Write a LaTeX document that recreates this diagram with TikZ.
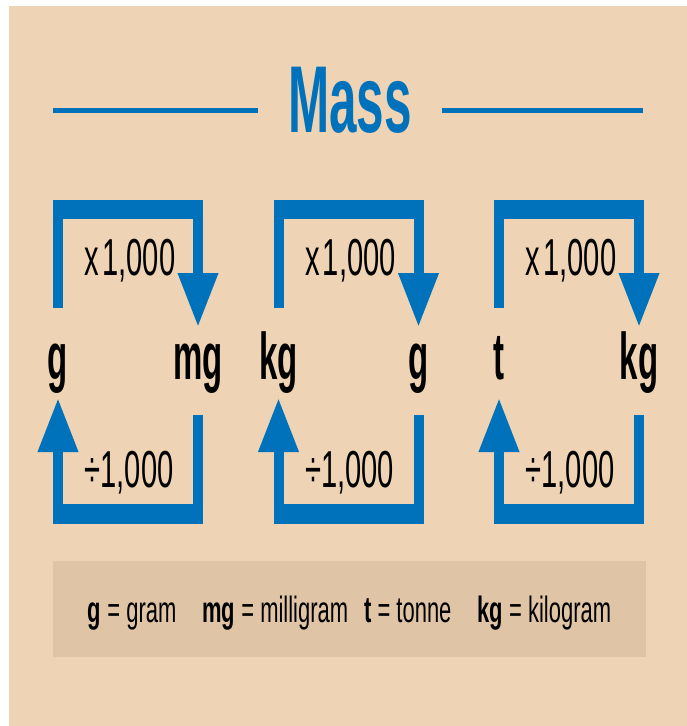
\documentclass[tikz,border=0pt]{standalone}
\usepackage{fontspec}
\usepackage{tikz}
\usetikzlibrary{arrows.meta,calc}
\newfontfamily\titlefont{Liberation Sans}[FakeStretch=0.52]
\newfontfamily\unitfont{Liberation Sans}[FakeStretch=0.5]
\newfontfamily\opfont{Liberation Sans}[FakeStretch=0.56]
\newfontfamily\keyfont{Liberation Sans}[FakeStretch=0.6]
\definecolor{massblue}{HTML}{0072BC}
\definecolor{sand}{HTML}{EED4B4}
\definecolor{dune}{HTML}{E0C4A6}
\tikzset{
  ttl/.style={anchor=base, inner xsep=30.5pt, inner ysep=0pt, text=massblue,
              font=\titlefont\bfseries\fontsize{95}{95}\selectfont},
  unit/.style={anchor=base, inner sep=0pt, font=\unitfont\bfseries\fontsize{66}{66}\selectfont},
  op/.style={anchor=base, inner sep=0pt, font=\opfont\fontsize{52}{52}\selectfont},
  keybox/.style={fill=dune, minimum width=593pt, minimum height=96pt, inner sep=0pt,
                 text height=30pt, text depth=4pt, font=\keyfont\fontsize{36.6}{36.6}\selectfont},
  rule/.style={draw=massblue, line width=5pt},
  bar/.style={draw=massblue, line width=10pt, line join=miter},
  loopbar/.style={bar, -{Triangle[width=38pt, length=54pt]}},
  crossbar/.style={draw=massblue, shorten <=-5pt, shorten >=-5pt}
}

\begin{document}
\begin{tikzpicture}[x=1pt, y=-1pt]
  \useasboundingbox (0,0) rectangle (687,726);
  \fill[white] (0,0) rectangle (687,726);
  \fill[sand] (9,6) rectangle (687,726);

  \node[ttl] (title) at (350,132) {Mass};
  \coordinate (ruleL) at (53,110);
  \coordinate (ruleR) at (643,110);
  \draw[rule] (ruleL) -- (ruleL -| title.west);
  \draw[rule] (title.east |- ruleR) -- (ruleR);

  % rows of the two brackets
  \coordinate (upstop) at (0,308);
  \coordinate (upbar) at (0,205);
  \coordinate (upfat) at (0,209.5);
  \coordinate (uptip) at (0,327);
  \coordinate (lowstart) at (0,415);
  \coordinate (lowbar) at (0,514);
  \coordinate (lowtip) at (0,398);

  \foreach \a/\b/\x [count=\i] in {g/mg/53, kg/g/273.5, t/kg/494} {
    \node[unit] (from\i) at (\x+5,379) {\a};
    \node[unit] (to\i) at (\x+145,379) {\b};
    \node[op] (times\i) at (\x+77,275) {x\kern3pt1,000};
    \node[op] (div\i) at (\x+76,487) {÷1,000};
    \draw[loopbar] (from\i |- upstop) |- (to\i |- upbar) -- (to\i |- uptip);
    \draw[crossbar, line width=19pt] (from\i |- upfat) -- (to\i |- upfat);
    \draw[loopbar] (to\i |- lowstart) |- (from\i |- lowbar) -- (from\i |- lowtip);
    \draw[crossbar, line width=20pt] (from\i |- lowbar) -- (to\i |- lowbar);
  }

  \node[keybox] (key) at (349.5,609)
    {\textbf{g} = gram\hspace{26pt}\textbf{mg} = milligram\hspace{16pt}\textbf{t} = tonne\hspace{26pt}\textbf{kg} = kilogram};
\end{tikzpicture}
\end{document}
